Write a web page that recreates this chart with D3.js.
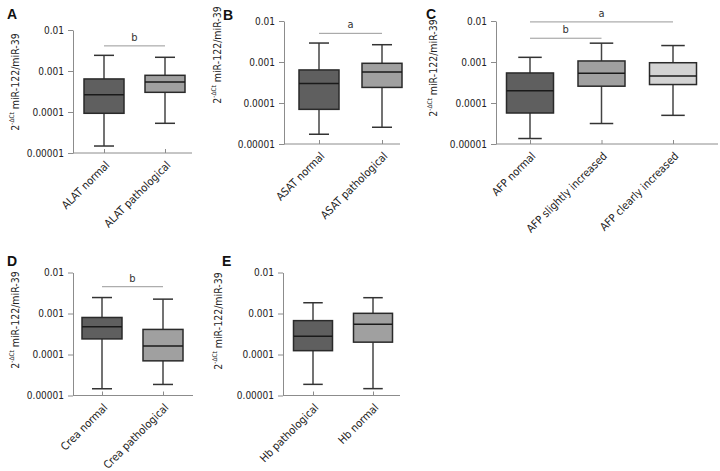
<!DOCTYPE html>
<html>
<head>
<meta charset="utf-8">
<script src="https://cdn.jsdelivr.net/npm/d3@7"></script>
<style>
  body { margin: 0; background: #fff; }
  svg { display: block; font-family: "DejaVu Sans Condensed", "DejaVu Sans", sans-serif; }
</style>
</head>
<body>
<div id="chart"></div>
<script>
// y axis ticks, shared by every panel
const yTicks = [0.00001, 0.0001, 0.001, 0.01];
const yTickLabels = ["0.00001", "0.0001", "0.001", "0.01"];

// box stats: [min, q1, median, q3, max]
const alatCats = ["ALAT normal", "ALAT pathological"];
const alatStats = [[0.0000148, 0.000093, 0.000264, 0.00064, 0.00241],
                   [0.000053, 0.000302, 0.00054, 0.000785, 0.00216]];
const alatSig = [["ALAT normal", "ALAT pathological", 0.0041, "b"]];

const asatCats = ["ASAT normal", "ASAT pathological"];
const asatStats = [[0.0000173, 0.00007, 0.0003, 0.00064, 0.0029],
                   [0.0000256, 0.00024, 0.00057, 0.00093, 0.00264]];
const asatSig = [["ASAT normal", "ASAT pathological", 0.005, "a"]];

const afpCats = ["AFP normal", "AFP slightly increased", "AFP clearly increased"];
const afpStats = [[0.0000136, 0.000057, 0.0002, 0.00054, 0.0013],
                  [0.0000316, 0.000257, 0.00053, 0.00106, 0.00288],
                  [0.00005, 0.000282, 0.000457, 0.00096, 0.00252]];
const afpSig = [["AFP normal", "AFP clearly increased", 0.0095, "a"],
                ["AFP normal", "AFP slightly increased", 0.0038, "b"]];

const creaCats = ["Crea normal", "Crea pathological"];
const creaStats = [[0.0000146, 0.00024, 0.000478, 0.0008, 0.00245],
                   [0.0000186, 0.00007, 0.000162, 0.000409, 0.00224]];
const creaSig = [["Crea normal", "Crea pathological", 0.0045, "b"]];

const hbCats = ["Hb pathological", "Hb normal"];
const hbStats = [[0.0000187, 0.000124, 0.000278, 0.00067, 0.00183],
                 [0.0000147, 0.0002, 0.000546, 0.00101, 0.00243]];
const hbSig = [];

const boxFills = ["#5f5f5f", "#a0a0a0", "#d3d3d3"];

const width = 720;
const height = 471;

const svg = d3.select("#chart")
    .append("svg")
        .attr("width", width)
        .attr("height", height);

const panels = [
    { letter: "A", lx: 7, ly: 19, axisX: 73, xEnd: 192, top: 30, ticks: [104, 165], boxW: 40,
      labelX: 15, labelCy: 82, cats: alatCats, stats: alatStats, sig: alatSig },
    { letter: "B", lx: 223, ly: 20, axisX: 284, xEnd: 400, top: 21, ticks: [319, 382], boxW: 40,
      labelX: 217, labelCy: 55, cats: asatCats, stats: asatStats, sig: asatSig },
    { letter: "C", lx: 426, ly: 19, axisX: 496, xEnd: 718, top: 21, ticks: [530, 673], boxW: 47,
      labelX: 433, labelCy: 68, cats: afpCats, stats: afpStats, sig: afpSig },
    { letter: "D", lx: 7, ly: 266, axisX: 73, xEnd: 193, top: 272.5, ticks: [102, 163], boxW: 40,
      labelX: 15, labelCy: 320, cats: creaCats, stats: creaStats, sig: creaSig },
    { letter: "E", lx: 222, ly: 266, axisX: 283, xEnd: 400, top: 272.5, ticks: [313, 373], boxW: 39,
      labelX: 218, labelCy: 321, cats: hbCats, stats: hbStats, sig: hbSig }
];

function drawPanel(p) {
    const g = svg.append("g");
    const bottom = p.top + 123;

    const y = d3.scaleLog()
        .domain([0.00001, 0.01])
        .range([bottom, p.top]);

    const x = d3.scalePoint()
        .domain(p.cats)
        .range(p.ticks);

    // panel letter
    g.append("text")
        .attr("x", p.lx)
        .attr("y", p.ly)
        .attr("font-family", "Liberation Sans, Arial, sans-serif")
        .attr("font-weight", "bold")
        .attr("font-size", 14)
        .attr("fill", "#111")
        .text(p.letter);

    // y axis
    const yAxis = g.append("g")
        .attr("transform", `translate(${p.axisX},0)`)
        .call(d3.axisLeft(y).tickValues(yTicks)
            .tickFormat((d, i) => yTickLabels[i])
            .tickSize(5).tickSizeOuter(0).tickPadding(4));
    yAxis.selectAll("path, line").attr("stroke", "#8c8c8c");
    yAxis.selectAll("text").attr("font-size", 10).attr("fill", "#222")
        .attr("font-family", "DejaVu Sans Condensed, DejaVu Sans, sans-serif");

    // x axis
    const xAxis = g.append("g")
        .attr("transform", `translate(0,${bottom})`)
        .call(d3.axisBottom(x).tickSize(-4).tickSizeOuter(0));
    xAxis.select(".domain").attr("d", `M${p.axisX},0H${p.xEnd}`);
    xAxis.selectAll("path, line").attr("stroke", "#8c8c8c");
    xAxis.selectAll("text")
        .attr("x", 0).attr("y", 0).attr("dy", "0.35em")
        .attr("transform", "translate(3,10) rotate(-45)")
        .attr("text-anchor", "end")
        .attr("font-size", 11)
        .attr("fill", "#222")
        .attr("font-family", "DejaVu Sans Condensed, DejaVu Sans, sans-serif");

    // y label
    const lab = g.append("text")
        .attr("transform", `translate(${p.labelX},${p.labelCy}) rotate(-90)`)
        .attr("text-anchor", "middle")
        .attr("dy", "0.35em")
        .attr("font-size", 10.5)
        .attr("fill", "#222");
    lab.append("tspan").text("2");
    lab.append("tspan").attr("font-size", 6.5).attr("dy", "-0.7em").text("-ΔCt");
    lab.append("tspan").attr("dy", "0.45em").text(" miR-122/miR-39");

    // significance bars
    p.sig.forEach(s => {
        const yy = y(s[2]);
        g.append("line")
            .attr("x1", x(s[0])).attr("x2", x(s[1]))
            .attr("y1", yy).attr("y2", yy)
            .attr("stroke", "#999").attr("stroke-width", 1);
        g.append("text")
            .attr("x", (x(s[0]) + x(s[1])) / 2)
            .attr("y", yy - 5)
            .attr("text-anchor", "middle")
            .attr("font-size", 11)
            .attr("fill", "#333")
            .text(s[3]);
    });

    // boxes
    const boxes = g.selectAll("g.box")
        .data(p.stats)
        .enter().append("g")
        .attr("class", "box")
        .attr("transform", (d, i) => `translate(${x(p.cats[i])},0)`);

    const hw = p.boxW / 2;

    // whiskers
    boxes.append("line")
        .attr("y1", d => y(d[0])).attr("y2", d => y(d[1]))
        .attr("stroke", "#444").attr("stroke-width", 1.5);
    boxes.append("line")
        .attr("y1", d => y(d[3])).attr("y2", d => y(d[4]))
        .attr("stroke", "#444").attr("stroke-width", 1.5);
    boxes.append("line")
        .attr("x1", -hw / 2).attr("x2", hw / 2)
        .attr("y1", d => y(d[0])).attr("y2", d => y(d[0]))
        .attr("stroke", "#333").attr("stroke-width", 1.5);
    boxes.append("line")
        .attr("x1", -hw / 2).attr("x2", hw / 2)
        .attr("y1", d => y(d[4])).attr("y2", d => y(d[4]))
        .attr("stroke", "#333").attr("stroke-width", 1.5);

    boxes.append("rect")
        .attr("x", -hw)
        .attr("width", p.boxW)
        .attr("y", d => y(d[3]))
        .attr("height", d => y(d[1]) - y(d[3]))
        .attr("fill", (d, i) => boxFills[i])
        .attr("stroke", "#2a2a2a")
        .attr("stroke-width", 1.5);

    // median
    boxes.append("line")
        .attr("x1", -hw).attr("x2", hw)
        .attr("y1", d => y(d[2])).attr("y2", d => y(d[2]))
        .attr("stroke", "#1a1a1a").attr("stroke-width", 1.5);
}

panels.forEach(drawPanel);
</script>
</body>
</html>
